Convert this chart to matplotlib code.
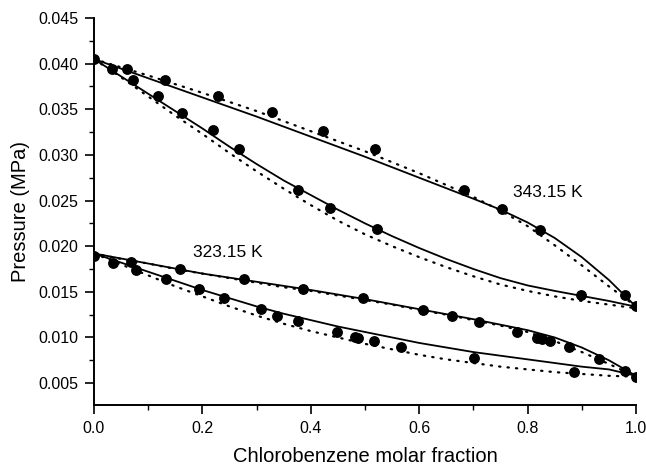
import matplotlib
matplotlib.use("Agg")
import matplotlib.pyplot as plt
from matplotlib.ticker import MultipleLocator, FormatStrFormatter

plt.rcParams['font.family'] = ['Liberation Sans', 'DejaVu Sans']

# Experimental P-x-y data (MPa)
x_343_liq = [0.0, 0.060, 0.131, 0.228, 0.329, 0.423, 0.518, 0.682, 0.752, 0.822, 0.980, 1.0]
p_343_liq = [0.0405, 0.0394, 0.0382, 0.0365, 0.0347, 0.0326, 0.0306, 0.0262, 0.0241, 0.0218, 0.0146, 0.0134]
x_343_vap = [0.033, 0.072, 0.118, 0.162, 0.220, 0.268, 0.376, 0.435, 0.523, 0.898]
p_343_vap = [0.0394, 0.0382, 0.0365, 0.0346, 0.0327, 0.0307, 0.0262, 0.0242, 0.0219, 0.0146]

x_323_liq = [0.0, 0.069, 0.159, 0.276, 0.385, 0.496, 0.607, 0.660, 0.710, 0.781, 0.817, 0.826,
             0.841, 0.876, 0.932, 0.980, 1.0]
p_323_liq = [0.0189, 0.0183, 0.0175, 0.0164, 0.0153, 0.0143, 0.0130, 0.0124, 0.0117, 0.0106, 0.0099, 0.0098,
             0.0096, 0.0089, 0.0076, 0.0063, 0.0057]
x_323_vap = [0.035, 0.078, 0.132, 0.193, 0.240, 0.309, 0.337, 0.377, 0.448, 0.481, 0.487, 0.516,
             0.567, 0.701, 0.886]
p_323_vap = [0.0182, 0.0174, 0.0164, 0.0153, 0.0143, 0.0131, 0.0124, 0.0118, 0.0106, 0.0100, 0.0099, 0.0096,
             0.0089, 0.0077, 0.0062]

# Model curves on a common composition grid
x_grid = [0.0, 0.05, 0.1, 0.15, 0.2, 0.25, 0.3, 0.35, 0.4, 0.45, 0.5,
          0.55, 0.6, 0.65, 0.7, 0.75, 0.8, 0.85, 0.9, 0.95, 1.0]

# 343.15 K
solid_343_bub = [0.0405, 0.03945, 0.0384, 0.03735, 0.0363, 0.03525, 0.0342, 0.0331, 0.0320, 0.0309, 0.0298,
                 0.02865, 0.0275, 0.02635, 0.0252, 0.0240, 0.0226, 0.0209, 0.0188, 0.0163, 0.01337]
dot_343_bub = [0.0405, 0.0396, 0.0387, 0.03775, 0.0368, 0.0358, 0.0348, 0.0337, 0.0326, 0.0315, 0.0304,
               0.0292, 0.0280, 0.0267, 0.0254, 0.0239, 0.0222, 0.0201, 0.0179, 0.0156, 0.0134]
solid_343_dew = [0.0405, 0.0386, 0.0367, 0.0348, 0.0329, 0.0309, 0.0290, 0.0272, 0.0256, 0.0240, 0.0225,
                 0.0211, 0.0198, 0.0186, 0.0175, 0.0165, 0.0157, 0.0151, 0.01455, 0.0140, 0.01337]
dot_343_dew = [0.0405, 0.0385, 0.0364, 0.0343, 0.0323, 0.0302, 0.0282, 0.0263, 0.0245, 0.0228, 0.0213,
               0.0200, 0.0188, 0.0177, 0.0167, 0.0158, 0.0151, 0.0145, 0.0140, 0.0136, 0.0132]

# 323.15 K
solid_323_bub = [0.0192, 0.01865, 0.0181, 0.01755, 0.0170, 0.01655, 0.0161, 0.01565, 0.0152, 0.0147, 0.0142,
                 0.01365, 0.0131, 0.01255, 0.0120, 0.0114, 0.0108, 0.0100, 0.0089, 0.0075, 0.0058]
dot_323_bub = [0.0192, 0.0186, 0.0181, 0.0175, 0.0170, 0.0165, 0.0160, 0.0155, 0.0151, 0.0146, 0.0141,
               0.0136, 0.0130, 0.0125, 0.0119, 0.0113, 0.0106, 0.0096, 0.0084, 0.0071, 0.0057]
solid_323_dew = [0.0192, 0.0182, 0.0172, 0.0162, 0.0152, 0.0143, 0.0134, 0.0126, 0.0119, 0.0112, 0.0106,
                 0.0100, 0.0094, 0.0089, 0.0084, 0.0080, 0.0076, 0.0072, 0.0068, 0.0065, 0.0058]
dot_323_dew = [0.0192, 0.0180, 0.0168, 0.0156, 0.0145, 0.0134, 0.0124, 0.0115, 0.0107, 0.0100, 0.0093,
               0.0087, 0.0081, 0.0076, 0.0072, 0.0068, 0.0065, 0.0062, 0.0060, 0.0058, 0.0057]

labels = ["343.15 K", "323.15 K"]

fig = plt.figure(figsize=(6.46, 4.70), dpi=100)
ax = fig.add_axes([0.1455, 0.1383, 0.839, 0.8234])

solid_kw = dict(color='black', lw=1.3, solid_capstyle='round', solid_joinstyle='round', zorder=2)
dot_kw = dict(color='black', lw=1.6, linestyle=(0, (0.6, 3.2)), dash_capstyle='round', zorder=2)

for curve in (solid_343_bub, solid_343_dew, solid_323_bub, solid_323_dew):
    ax.plot(x_grid, curve, **solid_kw)
for curve in (dot_343_bub, dot_343_dew, dot_323_bub, dot_323_dew):
    ax.plot(x_grid, curve, **dot_kw)

mk = dict(linestyle='none', marker='o', ms=6.8, color='black', zorder=3)
ax.plot(x_343_liq, p_343_liq, **mk)
ax.plot(x_343_vap, p_343_vap, **mk)
ax.plot(x_323_liq, p_323_liq, **mk)
ax.plot(x_323_vap, p_323_vap, **mk)

ax.text(0.773, 0.02584, labels[0], fontsize=12.5, va='center', ha='left')
ax.text(0.182, 0.01929, labels[1], fontsize=12.5, va='center', ha='left')

ax.set_xlim(0.0, 1.0)
ax.set_ylim(0.0026, 0.045)
ax.xaxis.set_major_locator(MultipleLocator(0.2))
ax.xaxis.set_minor_locator(MultipleLocator(0.1))
ax.yaxis.set_major_locator(MultipleLocator(0.005))
ax.yaxis.set_minor_locator(MultipleLocator(0.0025))
ax.xaxis.set_major_formatter(FormatStrFormatter('%.1f'))
ax.yaxis.set_major_formatter(FormatStrFormatter('%.3f'))

for side in ('top', 'right'):
    ax.spines[side].set_visible(False)
for side in ('left', 'bottom'):
    ax.spines[side].set_linewidth(1.4)

ax.tick_params(which='major', direction='out', length=6.5, width=1.2, labelsize=11.5, pad=5)
ax.tick_params(which='minor', direction='out', length=3.5, width=1.0)

ax.set_xlabel("Chlorobenzene molar fraction", fontsize=14.5, labelpad=8)
ax.set_ylabel("Pressure (MPa)", fontsize=14.5, labelpad=6)

fig.savefig("out.png", dpi=100)
